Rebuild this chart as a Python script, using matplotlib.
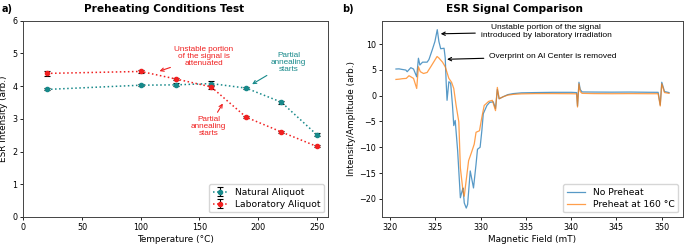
import matplotlib
matplotlib.use('Agg')
import matplotlib.pyplot as plt

plt.rcParams['font.family'] = ['DejaVu Sans']
plt.rcParams['xtick.labelsize'] = 5.8
plt.rcParams['ytick.labelsize'] = 5.8
plt.rcParams['xtick.major.size'] = 2.5
plt.rcParams['ytick.major.size'] = 2.5
plt.rcParams['xtick.major.width'] = 0.6
plt.rcParams['ytick.major.width'] = 0.6
plt.rcParams['xtick.major.pad'] = 2
plt.rcParams['ytick.major.pad'] = 2
plt.rcParams['axes.linewidth'] = 0.7
plt.rcParams['axes.edgecolor'] = '#444444'

ANN_FONT = ['Liberation Sans', 'DejaVu Sans']

# ---- panel a: preheating test ----
temps = [20, 100, 130, 160, 190, 220, 250]
natural = [3.90, 4.03, 4.04, 4.08, 3.94, 3.51, 2.52]
natural_err = [0.03, 0.03, 0.05, 0.07, 0.04, 0.04, 0.05]
laboratory = [4.39, 4.45, 4.22, 3.98, 3.05, 2.60, 2.16]
laboratory_err = [0.07, 0.04, 0.03, 0.07, 0.03, 0.04, 0.03]

# ---- panel b: ESR spectra ----
field_np = [320.66, 321.0, 321.3, 321.75, 321.9, 322.3, 322.6, 322.95, 323.14, 323.3,
            323.6, 324.1, 324.3, 324.67, 324.96, 325.22, 325.4, 325.6, 325.97, 326.1,
            326.2, 326.3, 326.5, 326.7, 326.9, 327.04, 327.2, 327.47, 327.77, 327.96,
            328.06, 328.2, 328.42, 328.57, 328.86, 329.22, 329.5, 329.66, 329.95, 330.14,
            330.3, 330.7, 331.0, 331.4, 331.65, 331.85, 332.05, 332.5, 333.0, 333.6,
            334.5, 336.0, 338.0, 340.0, 340.6, 340.7, 340.86, 341.0, 341.2, 342.5,
            344.5, 346.5, 348.5, 349.6, 349.83, 350.0, 350.3, 350.8]
amp_np = [5.17, 5.2, 5.1, 4.97, 4.65, 5.43, 5.17, 3.66, 7.26, 5.95,
          6.5, 6.5, 7.0, 8.9, 10.5, 12.8, 10.5, 9.1, 9.2, 7.3,
          2.7, -0.9, 2.7, 2.4, -1.9, -5.8, -4.8, -10.7, -19.8, -18.5,
          -17.9, -20.8, -21.8, -21.1, -14.6, -17.9, -13.3, -10.4, -10.0, -6.8,
          -3.5, -1.9, -1.3, -1.2, -2.5, 1.2, -0.6, -0.2, 0.2, 0.4,
          0.55, 0.6, 0.65, 0.65, 0.6, -2.0, 2.6, 1.2, 0.72, 0.7,
          0.68, 0.7, 0.66, 0.65, -1.8, 2.6, 0.8, 0.6]

field_ph = [320.66, 321.0, 321.4, 321.8, 322.1, 322.6, 322.95, 323.14, 323.35, 323.7,
            324.1, 324.5, 324.85, 325.2, 325.4, 325.8, 326.1, 326.5, 326.8, 327.04,
            327.3, 327.6, 327.77, 328.06, 328.2, 328.4, 328.68, 329.0, 329.3, 329.5,
            329.88, 330.14, 330.4, 330.9, 331.3, 331.65, 331.85, 332.05, 332.5, 333.0,
            333.6, 334.5, 336.0, 338.0, 340.0, 340.6, 340.7, 340.86, 341.0, 341.2,
            342.5, 344.5, 346.5, 348.5, 349.6, 349.83, 350.0, 350.3, 350.8]
amp_ph = [3.15, 3.2, 3.3, 3.35, 3.87, 3.35, 1.4, 5.6, 4.65, 4.3,
          4.5, 5.6, 6.6, 7.6, 7.3, 6.5, 5.6, 3.35, 2.6, 1.4,
          -1.9, -5.1, -14.0, -18.5, -19.5, -16.6, -12.6, -11.0, -9.4, -7.1,
          -6.8, -4.2, -1.9, -1.1, -0.9, -2.9, 1.6, -0.6, -0.2, 0.1,
          0.25, 0.35, 0.4, 0.4, 0.38, 0.35, -2.2, 2.3, 0.8, 0.45,
          0.4, 0.38, 0.4, 0.38, 0.38, -2.0, 2.3, 0.6, 0.45]

C_NAT = '#17898a'
C_LAB = '#f02020'

fig = plt.figure(figsize=(6.85, 2.45), dpi=100)
ax1 = fig.add_axes([0.0343, 0.1143, 0.445, 0.801])
ax2 = fig.add_axes([0.5581, 0.1143, 0.4385, 0.801])

# ===== a) =====
ax1.errorbar(temps, natural, yerr=natural_err, fmt='o', color=C_NAT, ecolor='black',
             markersize=3, capsize=2.5, elinewidth=0.8, capthick=0.8,
             linestyle=':', linewidth=1.1, label='Natural Aliquot')
ax1.errorbar(temps, laboratory, yerr=laboratory_err, fmt='o', color=C_LAB, ecolor='black',
             markersize=3, capsize=2.5, elinewidth=0.8, capthick=0.8,
             linestyle=':', linewidth=1.1, label='Laboratory Aliquot')
ax1.set_xlim(0, 260)
ax1.set_ylim(0, 6)
ax1.set_xlabel('Temperature (°C)', fontsize=6.4, labelpad=2)
ax1.set_ylabel('ESR Intensity (arb.)', fontsize=6.4, labelpad=3)
ax1.set_title('Preheating Conditions Test', fontsize=7.6, fontweight='bold', pad=6, x=0.462)
ax1.legend(loc='lower right', fontsize=6.6, handlelength=1.6, borderpad=0.4,
           labelspacing=0.3, handletextpad=0.8)

arr_red = dict(arrowstyle='->', color=C_LAB, lw=0.8, shrinkA=1, shrinkB=0)
arr_teal = dict(arrowstyle='->', color=C_NAT, lw=0.8, shrinkA=1, shrinkB=0)
ax1.annotate('Unstable portion\nof the signal is\nattenuated', xy=(116, 4.46), xytext=(154, 4.92),
             ha='center', va='center', fontsize=5.9, color=C_LAB, family=ANN_FONT,
             linespacing=1.0, arrowprops=arr_red)
ax1.annotate('Partial\nannealing\nstarts', xy=(195, 4.06), xytext=(226, 4.72),
             ha='center', va='center', fontsize=5.9, color=C_NAT, family=ANN_FONT,
             linespacing=1.0, arrowprops=arr_teal)
ax1.annotate('Partial\nannealing\nstarts', xy=(170, 3.47), xytext=(158, 2.76),
             ha='center', va='center', fontsize=5.9, color=C_LAB, family=ANN_FONT,
             linespacing=1.0, arrowprops=arr_red)

# ===== b) =====
ax2.plot(field_np, amp_np, color='tab:blue', alpha=0.75, lw=0.9, label='No Preheat')
ax2.plot(field_ph, amp_ph, color='tab:orange', alpha=0.75, lw=0.9, label='Preheat at 160 °C')
ax2.set_xlabel('Magnetic Field (mT)', fontsize=6.4, labelpad=2)
ax2.set_ylabel('Intensity/Amplitude (arb.)', fontsize=6.4, labelpad=2)
ax2.set_title('ESR Signal Comparison', fontsize=7.6, fontweight='bold', pad=6, x=0.44)
ax2.legend(loc='lower right', fontsize=6.6, handlelength=2.0, borderpad=0.4,
           labelspacing=0.3)

arr_k = dict(arrowstyle='->', color='black', lw=0.8, shrinkA=2, shrinkB=0)
ax2.annotate('Unstable portion of the signal\nintroduced by laboratory irradiation',
             xy=(325.6, 12.0), xytext=(337.25, 12.4), ha='center', va='center',
             fontsize=6, family=ANN_FONT, linespacing=1.1, arrowprops=arr_k)
ax2.annotate('Overprint on Al Center is removed', xy=(326.3, 7.06), xytext=(338.0, 7.6),
             ha='center', va='center', fontsize=6, family=ANN_FONT, arrowprops=arr_k)

fig.text(0.002, 0.965, 'a)', fontsize=7, fontweight='bold', va='center', ha='left')
fig.text(0.499, 0.965, 'b)', fontsize=7, fontweight='bold', va='center', ha='left')

plt.savefig('out.png', dpi=100)
